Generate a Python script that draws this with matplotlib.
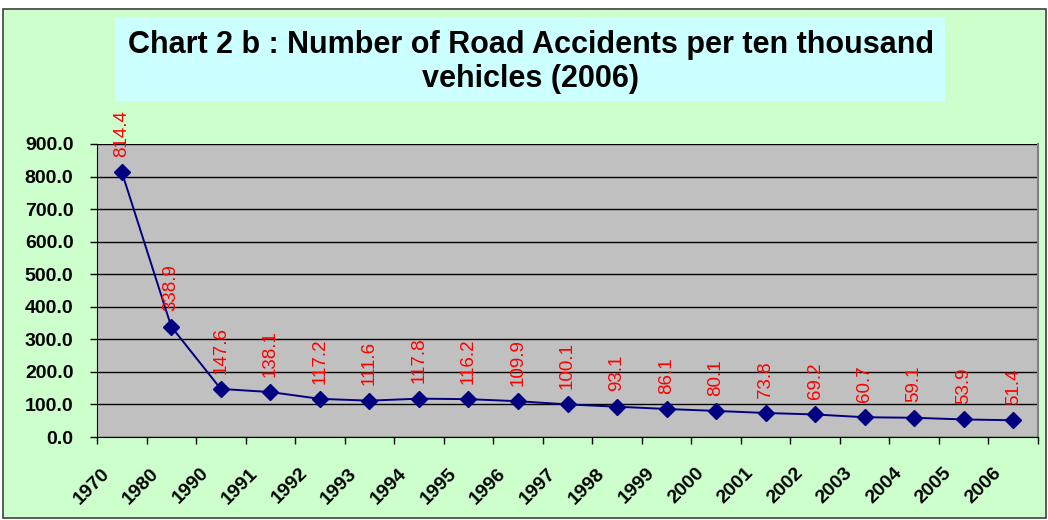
import numpy as np
import matplotlib.pyplot as plt
from matplotlib.patches import Rectangle
from matplotlib.transforms import ScaledTranslation

years = ['1970', '1980', '1990', '1991', '1992', '1993', '1994', '1995', '1996', '1997',
         '1998', '1999', '2000', '2001', '2002', '2003', '2004', '2005', '2006']
accidents = [814.4, 338.9, 147.6, 138.1, 117.2, 111.6, 117.8, 116.2, 109.9, 100.1,
             93.1, 86.1, 80.1, 73.8, 69.2, 60.7, 59.1, 53.9, 51.4]
yticks = [0, 100, 200, 300, 400, 500, 600, 700, 800, 900]

plt.rcParams['font.family'] = ['Liberation Sans', 'DejaVu Sans']

W, H = 1048, 520
fig = plt.figure(figsize=(W / 100, H / 100), dpi=100)
fig.patch.set_facecolor('white')

# outer chart frame
fig.patches.append(Rectangle((3 / W, 1 - 518 / H), 1043 / W, 509 / H, transform=fig.transFigure,
                             facecolor='#CCFFCC', edgecolor='#404040', linewidth=1.2, zorder=-2))
# title box
fig.patches.append(Rectangle((115 / W, 1 - 101 / H), 830 / W, 84 / H, transform=fig.transFigure,
                             facecolor='#CCFFFF', edgecolor='none', zorder=-1))
fig.text(531 / W, 1 - 62 / H, 'Chart 2 b : Number of Road Accidents per ten thousand\nvehicles (2006)',
         ha='center', va='center', fontsize=22, fontweight='bold', linespacing=1.15, zorder=2)

ax = fig.add_axes([97 / W, 1 - 437 / H, 941 / W, 293 / H])
ax.set_zorder(3)
ax.set_facecolor('#C0C0C0')

x = np.arange(len(years))
ax.plot(x, accidents, color='#000080', linewidth=1.4, marker='D', markersize=8,
        markerfacecolor='#000080', markeredgecolor='#000080', zorder=3)

for xi, v in zip(x, accidents):
    ax.annotate(f'{v:.1f}', (xi, v), xytext=(0, 11), textcoords='offset points',
                rotation=90, ha='center', va='bottom', color='red', fontsize=13.5,
                annotation_clip=False, zorder=4)

ax.set_xlim(-0.5, len(years) - 0.5)
ax.set_ylim(0, 900)
ax.set_yticks(yticks)
ax.set_yticklabels([f'{t:.1f}' for t in yticks], fontsize=14, fontweight='bold')
ax.yaxis.grid(True, color='black', linewidth=1)
ax.set_axisbelow(True)

ax.set_xticks(x - 0.5)
ax.set_xticklabels(years, rotation=45, ha='right', va='top', rotation_mode='anchor',
                   fontsize=14, fontweight='bold')
ax.set_xticks(list(x + 0.5), minor=True)
ax.tick_params(axis='x', which='both', length=5, width=1, pad=15)
ax.tick_params(axis='y', length=5, width=1, pad=12)
# nudge rotated year labels a little right of their tick
for lbl in ax.get_xticklabels():
    lbl.set_transform(lbl.get_transform() + ScaledTranslation(4 / 100, 0, fig.dpi_scale_trans))

for side in ['left', 'bottom']:
    ax.spines[side].set_color('black')
ax.spines['right'].set_color('#808080')
ax.spines['top'].set_visible(False)
ax.spines['right'].set_linewidth(1.5)

fig.savefig('out.png', dpi=100)
